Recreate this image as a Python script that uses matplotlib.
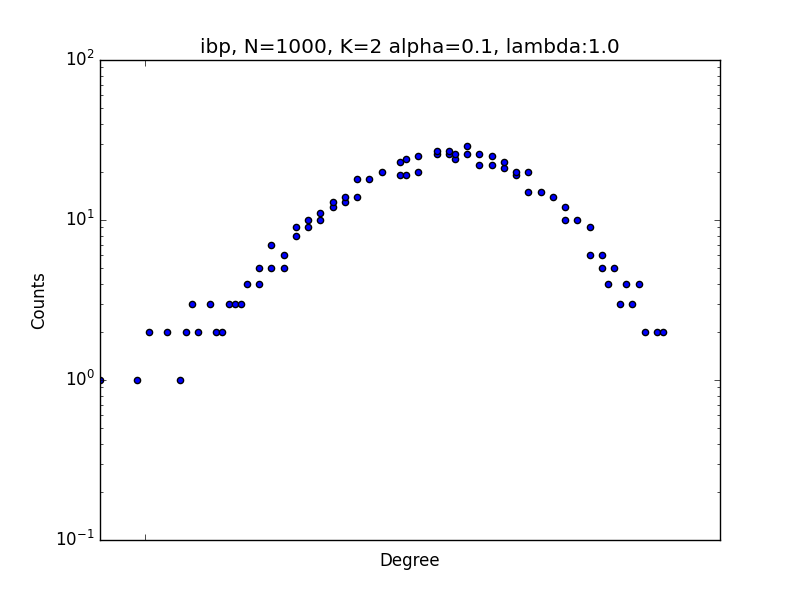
import matplotlib
matplotlib.use("Agg")
import matplotlib.pyplot as plt

plt.style.use('classic')

degree = [0, 6, 8, 11, 13, 14, 15, 16, 18, 19, 20, 21, 22, 23, 24,
          26, 26, 28, 28, 30, 30, 32, 32, 34, 34, 36, 36, 38, 38, 40, 40,
          42, 42, 44, 46, 49, 49, 50, 50, 52, 52, 55, 55, 57, 57, 58, 58,
          60, 60, 62, 62, 64, 64, 66, 66, 68, 68, 70, 70, 72, 74, 76, 76,
          78, 80, 80, 82, 82, 83, 84, 85, 86, 87, 88, 89, 91, 92]
counts = [1, 1, 2, 2, 1, 2, 3, 2, 3, 2, 2, 3, 3, 3, 4,
          4, 5, 5, 7, 5, 6, 8, 9, 9, 10, 10, 11, 12, 13, 13, 14,
          14, 18, 18, 20, 19, 23, 19, 24, 20, 25, 26, 27, 26, 27, 24, 26,
          26, 29, 22, 26, 22, 25, 21, 23, 19, 20, 20, 15, 15, 14, 12, 10,
          10, 9, 6, 6, 5, 4, 5, 3, 4, 3, 4, 2, 2, 2]

fig = plt.figure(figsize=(8, 6), dpi=100)
ax = fig.add_subplot(111)
ax.scatter(degree, counts, c='b', s=20, edgecolors='k')
ax.set_yscale('log')
ax.set_ylim(0.1, 100)
ax.set_xlim(0, 101.3)
ax.set_xticks([7.4])
ax.set_xticklabels([''])
ax.set_xlabel('Degree')
ax.set_ylabel('Counts')
ax.set_title('ibp, N=1000, K=2 alpha=0.1, lambda:1.0')
fig.savefig('out.png', dpi=100)
